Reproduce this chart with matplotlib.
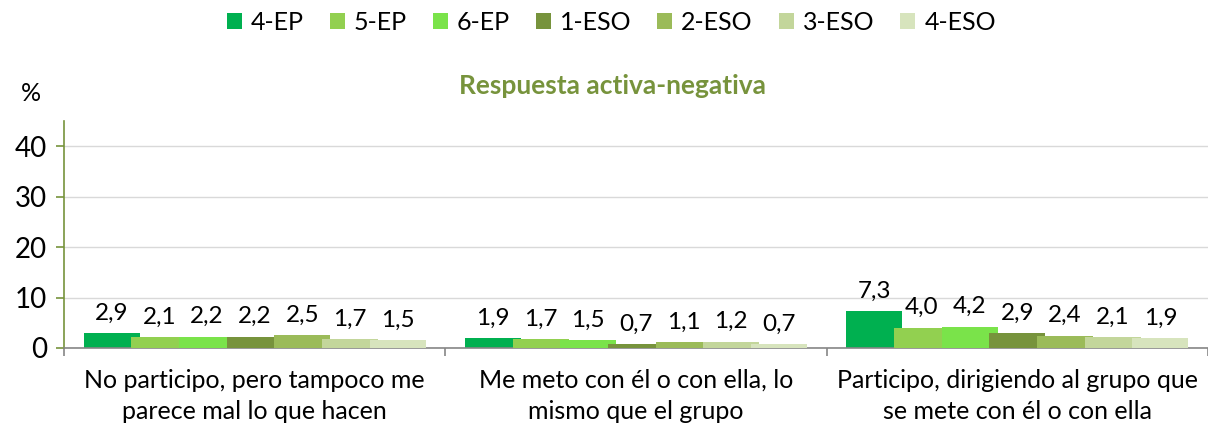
import numpy as np
import matplotlib.pyplot as plt
from matplotlib.ticker import FixedLocator, NullFormatter

plt.rcParams['font.family'] = ['Lato', 'DejaVu Sans']

categories = ["No participo, pero tampoco me\nparece mal lo que hacen",
              "Me meto con él o con ella, lo\nmismo que el grupo",
              "Participo, dirigiendo al grupo que\nse mete con él o con ella"]
series = ["4-EP", "5-EP", "6-EP", "1-ESO", "2-ESO", "3-ESO", "4-ESO"]
values = [
    [2.9, 1.9, 7.3],
    [2.1, 1.7, 4.0],
    [2.2, 1.5, 4.2],
    [2.2, 0.7, 2.9],
    [2.5, 1.1, 2.4],
    [1.7, 1.2, 2.1],
    [1.5, 0.7, 1.9],
]
colors = ["#00B050", "#92D050", "#7AE34A", "#77933C", "#9BBB59", "#C3D69B", "#D7E4BD"]

fig = plt.figure(figsize=(12.08, 4.28), dpi=100)
ax = fig.add_axes([0.053, 0.187, 0.947, 0.530])

x = np.arange(len(categories))
step = 0.125
width = 0.147
n = len(series)
for i, (name, vals, col) in enumerate(zip(series, values, colors)):
    pos = x + (i - (n - 1) / 2) * step
    ax.bar(pos, vals, width=width, color=col, label=name, zorder=2 + i)
    for px, v in zip(pos, vals):
        ax.annotate(f"{v:.1f}".replace(".", ","), (px, v), xytext=(0, 7),
                    textcoords="offset points", ha="center", va="bottom",
                    fontsize=17.5, color="#000000")

ax.set_xlim(-0.5, 2.5)
ax.set_ylim(0, 45)
ax.set_yticks([0, 10, 20, 30, 40])
ax.tick_params(axis="y", labelsize=20, colors="#77933C", labelcolor="#000000",
               length=6, width=1.2, pad=6)
ax.yaxis.grid(True, color="#D9D9D9", linewidth=1)
ax.set_axisbelow(True)

ax.xaxis.set_major_locator(FixedLocator([-0.5, 0.5, 1.5, 2.5]))
ax.xaxis.set_major_formatter(NullFormatter())
ax.xaxis.set_minor_locator(FixedLocator(list(x)))
ax.set_xticklabels(categories, minor=True)
for t in ax.get_xticklabels(minor=True):
    t.set_linespacing(1.45)
ax.tick_params(axis="x", which="major", length=6, color="#868686", width=1.2)
ax.tick_params(axis="x", which="minor", length=0, labelsize=18, pad=15)

for s in ["top", "right"]:
    ax.spines[s].set_visible(False)
ax.spines["left"].set_color("#77933C")
ax.spines["left"].set_linewidth(1.2)
ax.spines["bottom"].set_color("#868686")
ax.spines["bottom"].set_linewidth(1.2)

fig.text(0.507, 0.80, "Respuesta activa-negativa", ha="center", va="center",
         fontsize=19, fontweight="bold", color="#77933C")
fig.text(0.026, 0.782, "%", ha="center", va="center", fontsize=18)

fig.legend(loc="center", bbox_to_anchor=(0.506, 0.948), ncol=7, frameon=False,
           fontsize=18, handlelength=0.6, handleheight=0.6, handletextpad=0.35,
           columnspacing=1.05)

fig.savefig("out.png", dpi=100)
